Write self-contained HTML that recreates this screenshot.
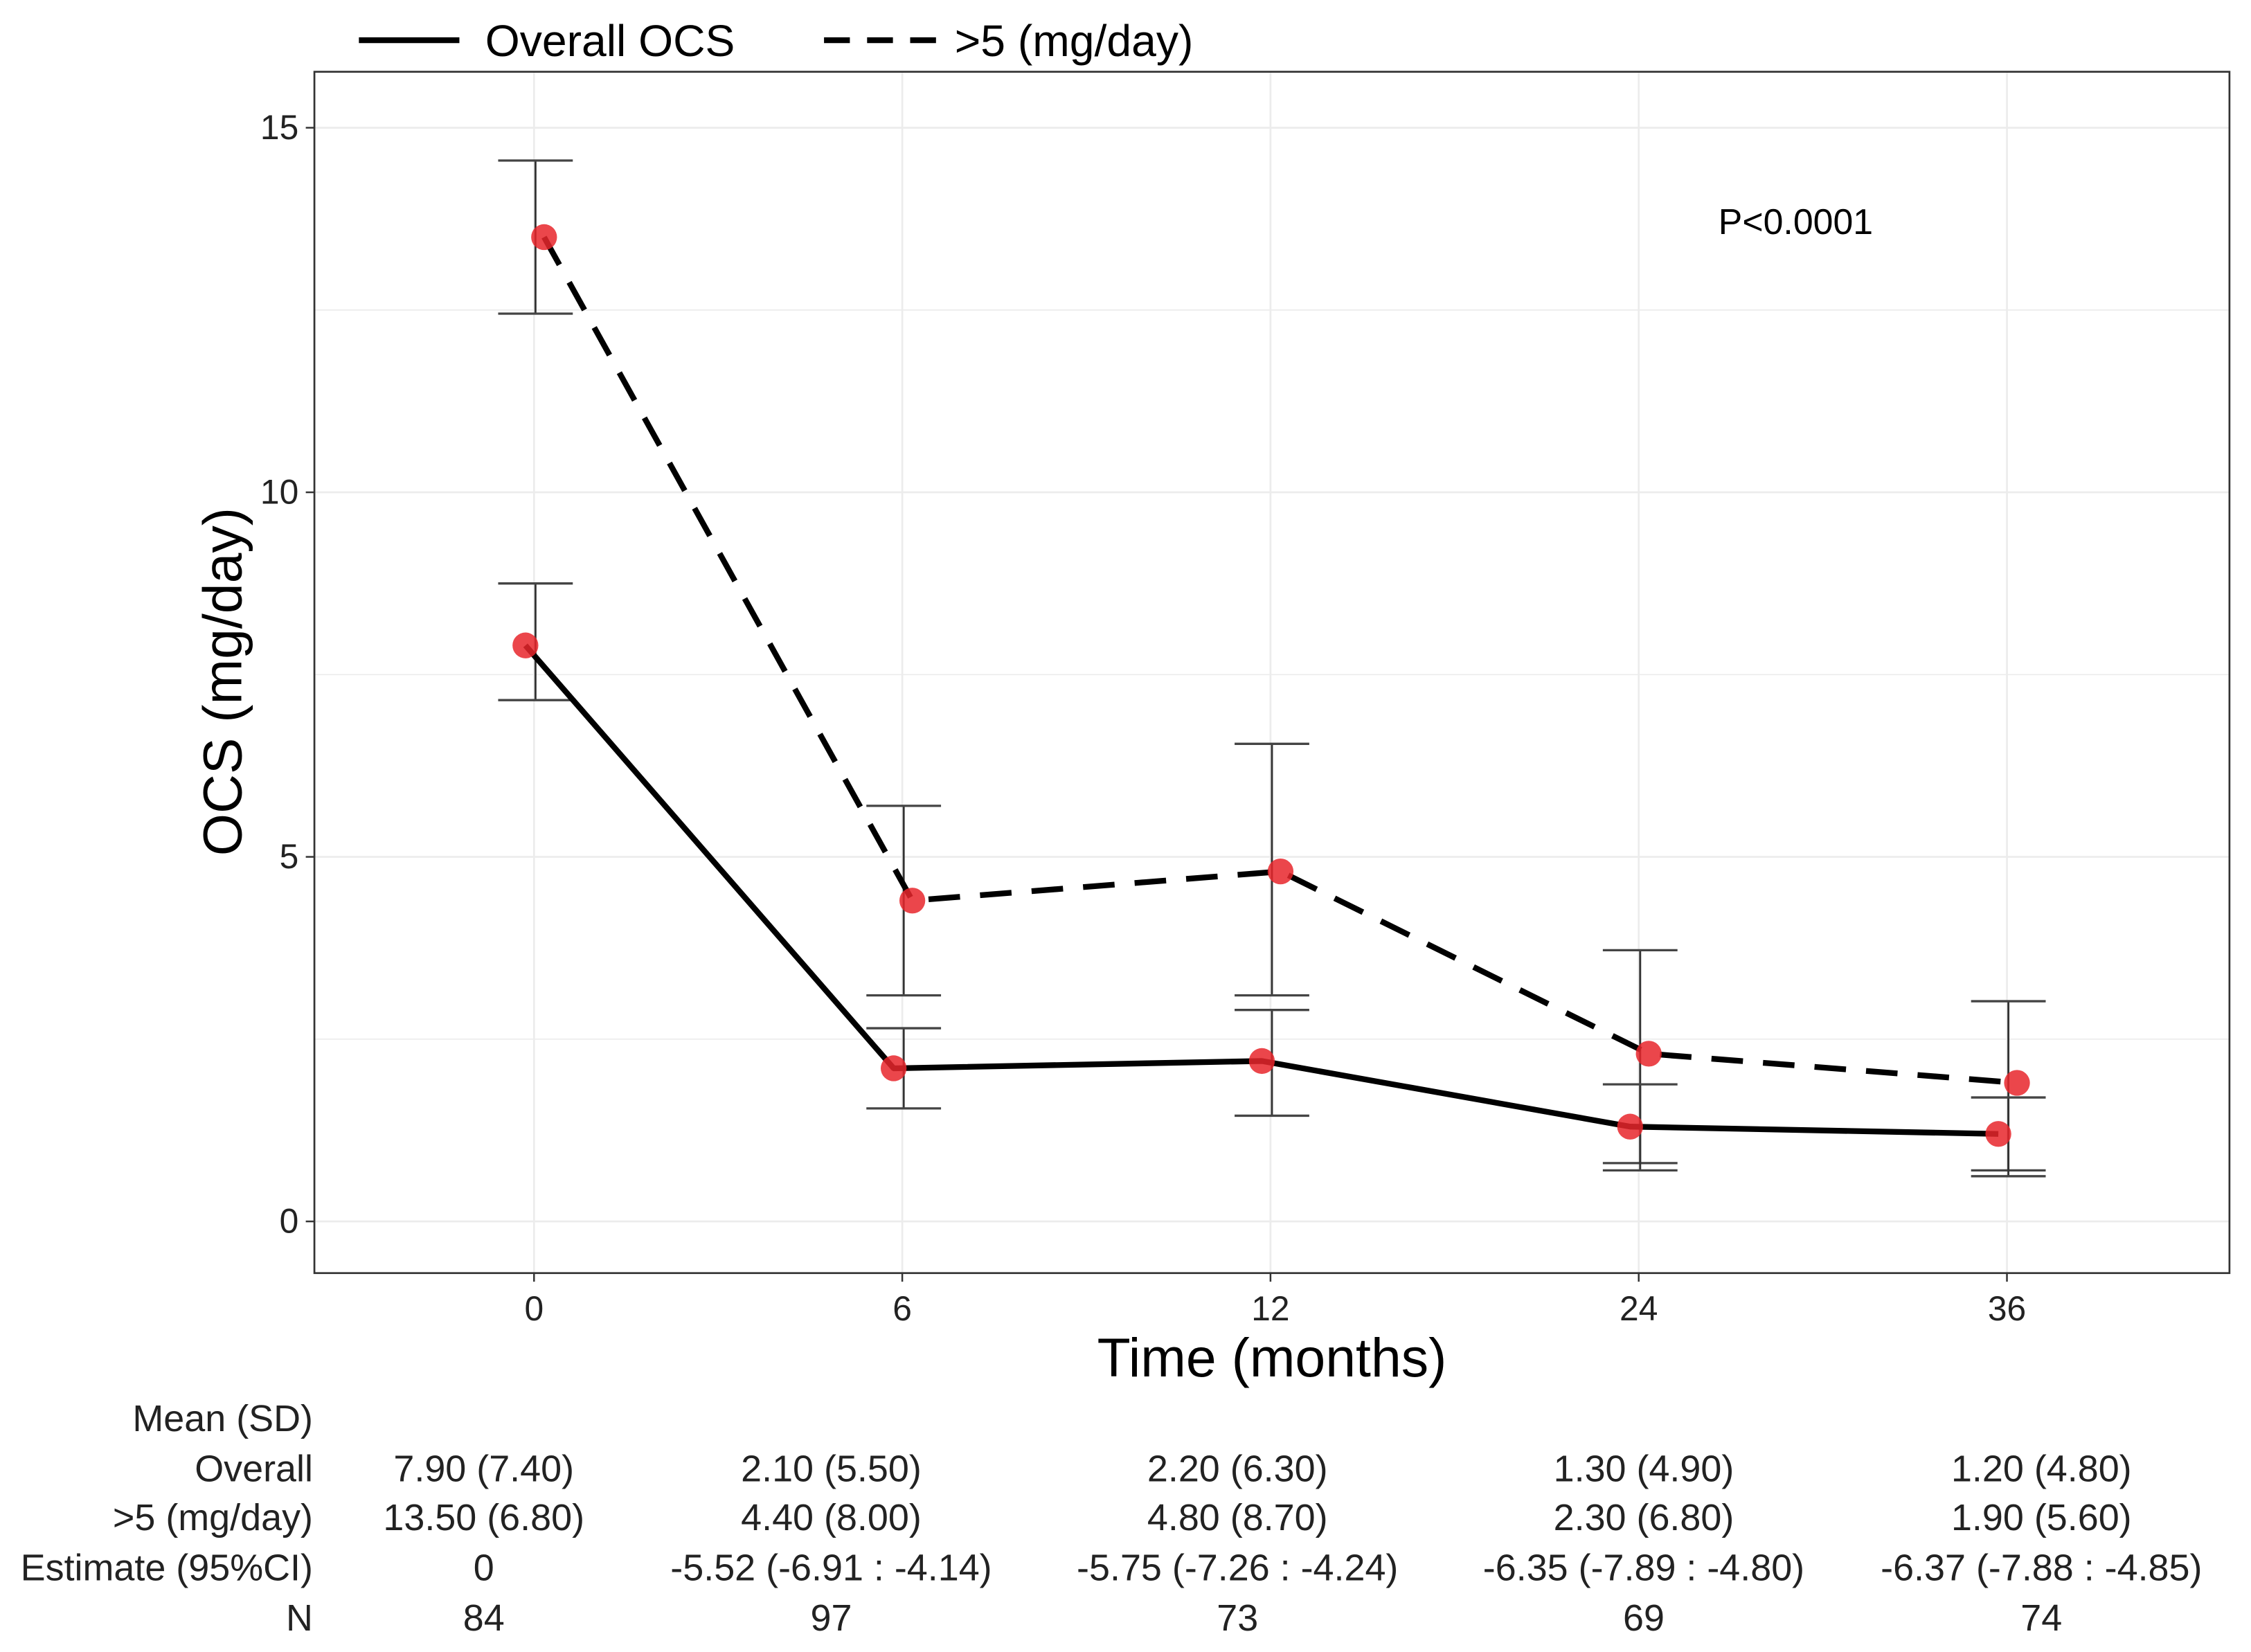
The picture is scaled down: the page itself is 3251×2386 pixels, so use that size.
<!DOCTYPE html>
<html><head><meta charset="utf-8"><style>
html,body{margin:0;padding:0;background:#fff;}
svg{display:block;font-family:"Liberation Sans",Arial,sans-serif;}
</style></head><body>
<svg id="chart" width="3251" height="2386" viewBox="0 0 1568 1151" preserveAspectRatio="none" xmlns="http://www.w3.org/2000/svg">
<g id="grid"></g>
<g id="bars"></g>
<g id="lines"></g>
<g id="pts"></g>
<rect x="219" y="50" width="1334" height="837" fill="none" stroke="#333" stroke-width="1.3"/>
<g id="axes"></g>
<text transform="translate(168,475) rotate(-90)" text-anchor="middle" font-size="38">OCS (mg/day)</text>
<text x="886" y="959" text-anchor="middle" font-size="38">Time (months)</text>
<text x="1197" y="163" font-size="25">P&lt;0.0001</text>
<g>
<line x1="250" y1="28" x2="320" y2="28" stroke="#000" stroke-width="4"/>
<text x="338" y="39" font-size="31">Overall OCS</text>
<line x1="574" y1="28" x2="655" y2="28" stroke="#000" stroke-width="4" stroke-dasharray="18,12"/>
<text x="665" y="39" font-size="31">&gt;5 (mg/day)</text>
</g>
<g id="table" font-size="26" fill="#222"></g>
</svg>
<script>
const categories = ["0","6","12","24","36"];
const overallMean = [7.9, 2.1, 2.2, 1.3, 1.2];
const overallLo = [7.15, 1.55, 1.45, 0.7, 0.62];
const overallHi = [8.75, 2.65, 2.9, 1.88, 1.7];
const gt5Mean = [13.5, 4.4, 4.8, 2.3, 1.9];
const gt5Lo = [12.45, 3.1, 3.1, 0.8, 0.7];
const gt5Hi = [14.55, 5.7, 6.55, 3.72, 3.02];
const yTicks = [0, 5, 10, 15];
const rowLabels = ["Mean  (SD)", "Overall", ">5 (mg/day)", "Estimate  (95%CI)", "N"];
const rowOverall = ["7.90 (7.40)","2.10 (5.50)","2.20 (6.30)","1.30 (4.90)","1.20 (4.80)"];
const rowGt5 = ["13.50 (6.80)","4.40 (8.00)","4.80 (8.70)","2.30 (6.80)","1.90 (5.60)"];
const rowEst = ["0","-5.52 (-6.91 : -4.14)","-5.75 (-7.26 : -4.24)","-6.35 (-7.89 : -4.80)","-6.37 (-7.88 : -4.85)"];
const rowN = ["84","97","73","69","74"];

const NS="http://www.w3.org/2000/svg";
const X = i => 372 + i*256.5;
const Y = v => 851 - v*(762/15);
function mk(parent, tag, attrs, text){const e=document.createElementNS(NS,tag);for(const k in attrs)e.setAttribute(k,attrs[k]);if(text!==undefined)e.textContent=text;document.getElementById(parent).appendChild(e);return e;}

for(let v=0; v<=17.5; v+=2.5){
  const y=Y(v); if(y<50) continue;
  const g=mk('grid','line',{x1:219,x2:1553,y1:y,y2:y,stroke:'#ececec','stroke-width':(v%5===0)?1.3:0.8});
  
  
}
categories.forEach((c,i)=>{
  const g=mk('grid','line',{x1:X(i),x2:X(i),y1:50,y2:887,stroke:'#ececec','stroke-width':1.3});
  
  
  const t=mk('axes','line',{x1:X(i),x2:X(i),y1:887,y2:893,stroke:'#333','stroke-width':1.2});
  
  
  const l=mk('axes','text',{x:X(i),y:920,'text-anchor':'middle','font-size':24,fill:'#222'},c);
  
  
});
yTicks.forEach(v=>{
  const t=mk('axes','line',{x1:213,x2:219,y1:Y(v),y2:Y(v),stroke:'#333','stroke-width':1.2});
  
  
  const l=mk('axes','text',{x:208,y:Y(v)+8,'text-anchor':'end','font-size':24,fill:'#222'},String(v));
  
  
});

function errbars(lo,hi,name){
  lo.forEach((v,i)=>{
    const x=X(i)+1;
    const a=mk('bars','line',{x1:x,x2:x,y1:Y(lo[i]),y2:Y(hi[i]),stroke:'#333','stroke-width':1.4});
    
    
    [lo[i],hi[i]].forEach(w=>{
      const c=mk('bars','line',{x1:x-26,x2:x+26,y1:Y(w),y2:Y(w),stroke:'#444','stroke-width':1.6});
      
      
    });
  });
}
errbars(gt5Lo,gt5Hi,'gt5');
errbars(overallLo,overallHi,'overall');

function series(vals,dx,dash,name){
  const pts=vals.map((v,i)=>(X(i)+dx)+','+Y(v)).join(' ');
  const p=mk('lines','polyline',{points:pts,fill:'none',stroke:'#000','stroke-width':4,'stroke-dasharray':dash||'none','stroke-linejoin':'round'});
  
  
  vals.forEach((v,i)=>{
    const c=mk('pts','circle',{cx:X(i)+dx,cy:Y(v),r:9,fill:'#e8262c','fill-opacity':0.85});
    
    
  });
}
series(overallMean,-6,null,'overall');
series(gt5Mean,7,'22,14','gt5');

const cols=[337,579,862,1145,1422];
const rowY=[997,1032,1066,1101,1136];
rowLabels.forEach((lab,r)=>{
  const t=mk('table','text',{x:218,y:rowY[r],'text-anchor':'end'},lab);
  
  
});
[rowOverall,rowGt5,rowEst,rowN].forEach((row,r)=>{
  row.forEach((val,i)=>{
    const t=mk('table','text',{x:cols[i],y:rowY[r+1],'text-anchor':'middle'},val);
    
    
  });
});
</script>
</body></html>
